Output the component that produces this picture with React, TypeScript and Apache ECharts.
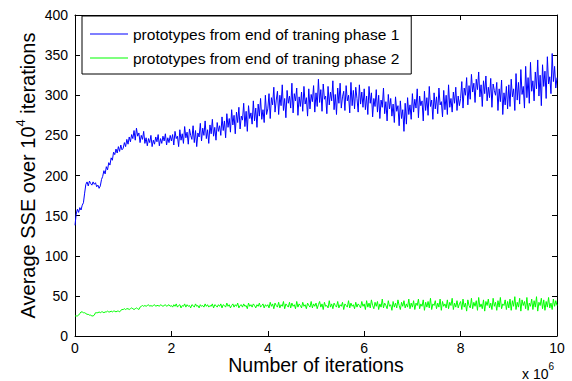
import React, { useEffect, useRef } from "react";
import * as echarts from "echarts";

// x spacing between samples, in units of 10^6 iterations
const X_STEP = 0.025;

const seriesNames = [
  "prototypes from end of traning phase 1",
  "prototypes from end of traning phase 2",
];

// Average SSE, prototypes from end of training phase 1 (x = 0 .. 10, step 0.025)
const phase1: number[] = [
  138, 152, 158, 154, 160, 157, 163, 166, 178, 189, 192, 187, 193, 190, 188, 192, 189, 191, 186, 188,
  184, 187, 195, 199, 206, 202, 211, 207, 216, 213, 222, 219, 229, 226, 233, 228, 236, 230, 238, 232,
  234, 241, 236, 245, 239, 248, 242, 251, 246, 256, 244, 259, 249, 253, 241, 250, 245, 255, 240, 247,
  237, 246, 241, 250, 236, 244, 239, 248, 242, 251, 237, 246, 240, 249, 243, 252, 238, 247, 241, 250,
  243, 251, 238, 255, 246, 249, 236, 257, 244, 252, 240, 261, 247, 254, 239, 258, 250, 245, 262, 241,
  256, 236, 253, 248, 265, 243, 259, 250, 268, 246, 257, 240, 263, 252, 270, 249, 260, 244, 266, 255,
  262, 250, 273, 256, 268, 247, 277, 260, 271, 254, 282, 263, 275, 252, 279, 266, 285, 258, 274, 269,
  290, 261, 280, 255, 287, 271, 278, 264, 293, 268, 284, 260, 289, 274, 296, 270, 282, 266, 300, 276,
  283, 302, 271, 297, 288, 310, 279, 294, 305, 276, 300, 287, 313, 281, 296, 272, 306, 290, 299, 284,
  315, 278, 302, 293, 309, 275, 298, 286, 304, 280, 311, 289, 297, 274, 308, 283, 301, 292, 312, 279,
  303, 286, 320, 291, 307, 280, 314, 295, 299, 277, 311, 288, 304, 293, 318, 282, 301, 276, 309, 290,
  315, 284, 298, 305, 281, 312, 293, 300, 278, 316, 287, 306, 283, 310, 296, 279, 313, 289, 304, 285,
  308, 282, 299, 276, 311, 290, 303, 273, 296, 286, 307, 279, 300, 271, 294, 285, 309, 277, 292, 268,
  301, 283, 296, 274, 289, 266, 298, 280, 287, 262, 293, 271, 282, 255, 290, 264, 297, 276, 288, 270,
  302, 279, 295, 284, 308, 272, 299, 287, 293, 268, 305, 281, 297, 275, 311, 286, 294, 270, 303, 283,
  298, 277, 309, 288, 292, 273, 306, 282, 300, 276, 313, 285, 296, 279, 304, 290, 310, 281, 299, 287,
  296, 317, 284, 309, 300, 322, 288, 312, 295, 326, 304, 315, 291, 320, 307, 329, 298, 313, 286, 318,
  302, 324, 293, 310, 297, 321, 285, 314, 306, 300, 316, 281, 308, 292, 319, 276, 303, 288, 311, 283,
  313, 286, 320, 298, 308, 281, 327, 294, 316, 289, 332, 301, 311, 284, 336, 297, 322, 290, 341, 305,
  318, 293, 329, 308, 344, 299, 325, 287, 338, 311, 330, 296, 348, 314, 323, 302, 352, 317, 336, 309,
  322,
];

// Average SSE, prototypes from end of training phase 2 (x = 0 .. 10, step 0.025)
const phase2: number[] = [
  25, 25, 25, 26, 28, 30, 30, 29, 29, 28, 27, 27, 26, 26, 25, 25, 26, 29, 29, 29,
  30, 29, 30, 30, 29, 30, 30, 31, 30, 30, 31, 30, 31, 31, 30, 31, 31, 30, 32, 33,
  33, 34, 33, 34, 34, 33, 34, 35, 34, 33, 34, 35, 34, 33, 36, 37, 38, 37, 38, 37,
  38, 39, 37, 38, 37, 38, 39, 37, 38, 38, 37, 39, 38, 37, 38, 39, 37, 38, 39, 37,
  38, 36, 39, 37, 40, 36, 38, 39, 35, 38, 37, 40, 36, 39, 37, 38, 35, 39, 38, 36,
  40, 37, 38, 35, 39, 37, 38, 36, 40, 37, 39, 36, 38, 37, 40, 35, 39, 38, 36, 39,
  37, 40, 35, 39, 38, 36, 41, 37, 39, 35, 38, 40, 36, 39, 37, 41, 35, 38, 39, 36,
  40, 37, 38, 34, 41, 37, 39, 36, 40, 38, 35, 39, 37, 41, 36, 38, 40, 35, 39, 37,
  39, 35, 42, 37, 40, 34, 41, 38, 36, 42, 35, 39, 37, 43, 34, 40, 38, 36, 42, 35,
  41, 37, 39, 34, 43, 36, 40, 38, 35, 42, 37, 39, 34, 41, 38, 36, 43, 35, 40, 37,
  41, 34, 39, 43, 36, 40, 33, 42, 37, 38, 35, 44, 36, 40, 34, 41, 38, 36, 43, 35,
  39, 37, 42, 33, 40, 38, 36, 44, 35, 41, 37, 39, 34, 42, 36, 40, 38, 35, 43, 37,
  40, 33, 44, 36, 41, 35, 45, 38, 34, 42, 37, 43, 33, 40, 36, 46, 35, 41, 38, 34,
  44, 37, 39, 32, 43, 36, 41, 35, 45, 38, 33, 42, 37, 44, 35, 40, 36, 46, 34, 41,
  36, 44, 33, 41, 38, 46, 34, 40, 37, 45, 32, 42, 36, 43, 35, 47, 33, 40, 38, 44,
  34, 41, 36, 46, 32, 43, 37, 40, 35, 45, 34, 42, 38, 47, 33, 41, 36, 44, 35, 40,
  43, 33, 46, 36, 41, 31, 45, 38, 35, 47, 34, 42, 37, 44, 32, 48, 36, 40, 34, 45,
  31, 43, 38, 46, 35, 41, 33, 47, 37, 42, 32, 44, 36, 48, 34, 40, 38, 45, 33, 43,
  35, 46, 32, 44, 37, 49, 33, 42, 36, 47, 31, 45, 38, 43, 34, 48, 32, 41, 37, 46,
  33, 44, 36, 49, 31, 42, 38, 47, 34, 45, 32, 43, 36, 48, 35, 41, 33, 46, 37, 44,
  38,
];

const X_MIN = 0;
const X_MAX = 10;
const X_INTERVAL = 2;
const Y_MIN = 0;
const Y_MAX = 400;
const Y_INTERVAL = 50;

const FONT = "Liberation Sans, Arial, sans-serif";

export default function App() {
  const ref = useRef<HTMLDivElement>(null);

  useEffect(() => {
    const chart = echarts.init(ref.current!, null, { renderer: "svg" });
    const toPairs = (arr: number[]) =>
      arr.map((v, i) => [Math.round(i * X_STEP * 1000) / 1000, v]);

    const tick = { show: true, inside: true, length: 5, lineStyle: { color: "#000", width: 1 } };
    const line = { show: true, onZero: false, lineStyle: { color: "#000", width: 1 } };

    chart.setOption({
      animation: false,
      backgroundColor: "#fff",
      textStyle: { fontFamily: FONT },
      grid: { left: 75, right: 15, top: 15, bottom: 45, containLabel: false },
      legend: {
        orient: "vertical",
        left: 82,
        top: 16,
        padding: [10, 12, 8, 8],
        itemGap: 8,
        itemWidth: 38,
        itemHeight: 1,
        icon: "rect",
        backgroundColor: "#fff",
        borderColor: "#000",
        borderWidth: 1,
        borderRadius: 0,
        textStyle: { fontSize: 15.5, color: "#000", fontFamily: FONT },
        data: seriesNames,
      },
      xAxis: [
        {
          type: "value",
          position: "bottom",
          min: X_MIN,
          max: X_MAX,
          interval: X_INTERVAL,
          axisLine: line,
          axisTick: tick,
          splitLine: { show: false },
          axisLabel: { fontSize: 14, lineHeight: 14, color: "#000", margin: 5, fontFamily: FONT },
          name: "Number of iterations",
          nameLocation: "middle",
          nameGap: 22,
          nameMoveOverlap: false,
          nameTextStyle: { fontSize: 19.5, lineHeight: 14, color: "#000", fontFamily: FONT },
        },
        {
          type: "value",
          position: "top",
          min: X_MIN,
          max: X_MAX,
          interval: X_INTERVAL,
          axisLine: line,
          axisTick: tick,
          splitLine: { show: false },
          axisLabel: { show: false },
        },
      ],
      yAxis: [
        {
          type: "value",
          position: "left",
          min: Y_MIN,
          max: Y_MAX,
          interval: Y_INTERVAL,
          axisLine: line,
          axisTick: tick,
          splitLine: { show: false },
          axisLabel: { fontSize: 14, color: "#000", margin: 7, fontFamily: FONT },
          name: "{a|Average SSE over 10}{s|4}{a| iterations}",
          nameLocation: "middle",
          nameGap: 37,
          nameMoveOverlap: false,
          nameTextStyle: {
            color: "#000",
            fontFamily: FONT,
            rich: {
              a: { fontSize: 20, lineHeight: 24, color: "#000", fontFamily: FONT, verticalAlign: "bottom" },
              s: { fontSize: 13, lineHeight: 13, color: "#000", fontFamily: FONT, verticalAlign: "top" },
            },
          },
        },
        {
          type: "value",
          position: "right",
          min: Y_MIN,
          max: Y_MAX,
          interval: Y_INTERVAL,
          axisLine: line,
          axisTick: tick,
          splitLine: { show: false },
          axisLabel: { show: false },
        },
      ],
      series: [
        {
          name: seriesNames[0],
          type: "line",
          xAxisIndex: 0,
          yAxisIndex: 0,
          symbol: "none",
          lineStyle: { color: "#0000ff", width: 1 },
          itemStyle: { color: "#0000ff" },
          data: toPairs(phase1),
        },
        {
          name: seriesNames[1],
          type: "line",
          xAxisIndex: 0,
          yAxisIndex: 0,
          symbol: "none",
          lineStyle: { color: "#00ff00", width: 1 },
          itemStyle: { color: "#00ff00" },
          data: toPairs(phase2),
        },
      ],
      graphic: [
        {
          type: "text",
          x: 522,
          y: 381,
          style: {
            text: "{a|x 10}{s|6}",
            verticalAlign: "bottom",
            align: "left",
            rich: {
              a: { fontSize: 14, lineHeight: 20, fill: "#000", fontFamily: FONT, verticalAlign: "bottom" },
              s: { fontSize: 10, lineHeight: 10, fill: "#000", fontFamily: FONT, verticalAlign: "top" },
            },
          },
        },
      ],
    });

    return () => chart.dispose();
  }, []);

  return (
    <div
      ref={ref}
      style={{ position: "fixed", left: 0, top: 0, width: 572, height: 381 }}
    />
  );
}
